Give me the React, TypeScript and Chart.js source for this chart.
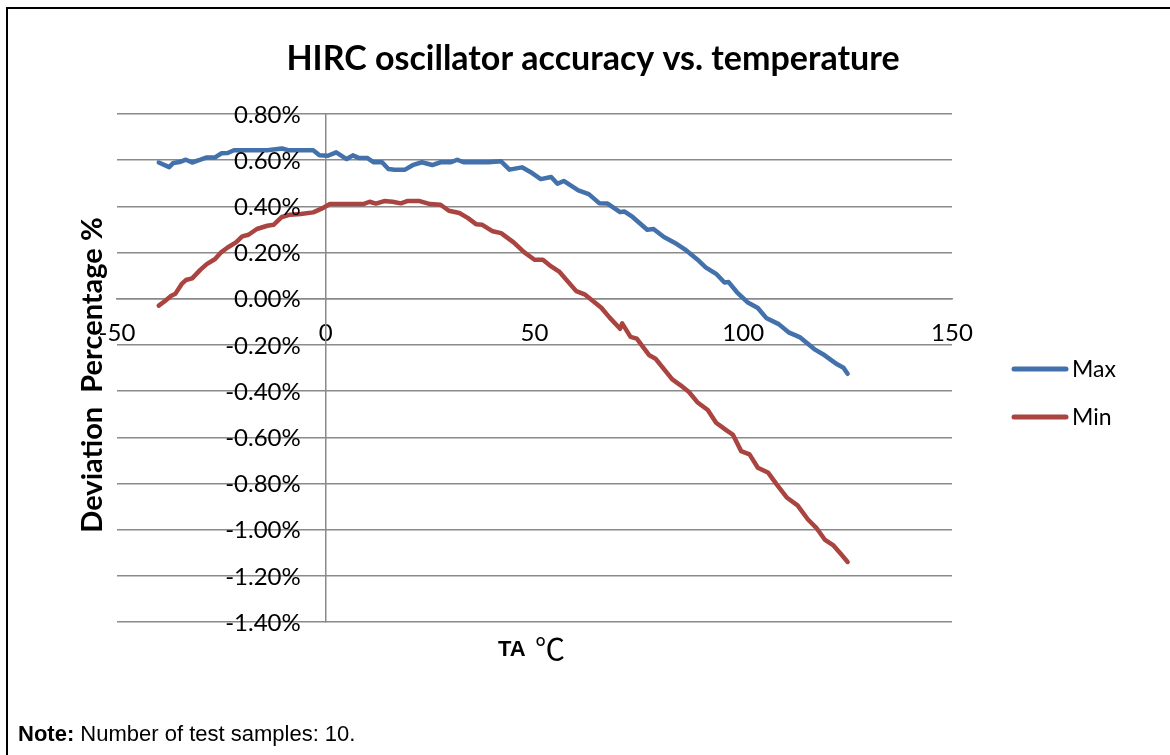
import React, { useEffect, useRef } from "react";
import { Chart, registerables } from "chart.js";

Chart.register(...registerables);

const chartTitle = "HIRC oscillator accuracy vs. temperature";
const yAxisTitle = "Deviation  Percentage %";
const xAxisTitleBold = "TA";
const xAxisTitleUnit = "℃";
const noteBold = "Note:";
const noteText = " Number of test samples: 10.";
const seriesNames = ["Max", "Min"];
const seriesColors = ["#4371AB", "#AA4441"];

const xMin = -50;
const xMax = 150;
const xStep = 50;
const yMin = -1.4;
const yMax = 0.8;
const yStep = 0.2;

const maxTemps = [
  -40, -37.5, -36.5, -35, -33.5, -32, -30, -28.5, -26.5, -25, -23.5, -22, -18, -14, -10.5, -9, -5, -3, -1.5, 0.5,
  2.5, 5, 6.5, 8, 10, 11.5, 13.5, 15, 16.5, 19, 21, 23, 25.5, 27.5, 30, 31.5, 33, 36, 39, 42,
  44, 47, 49, 51.5, 54, 55.5, 57, 60.5, 63, 65.5, 67.5, 70.5, 71.5, 73.5, 77, 78.5, 81, 84, 86, 89,
  91, 93.5, 95.5, 96.5, 98.5, 101, 103.5, 105.5, 108.5, 111, 113.5, 117, 119.5, 122.5, 124, 125,
];
const maxValues = [
  0.59, 0.57, 0.588, 0.592, 0.602, 0.59, 0.602, 0.612, 0.612, 0.63, 0.631, 0.643, 0.643, 0.643, 0.651, 0.643, 0.643, 0.643, 0.621, 0.619,
  0.634, 0.605, 0.621, 0.609, 0.609, 0.591, 0.591, 0.562, 0.559, 0.559, 0.58, 0.591, 0.579, 0.591, 0.591, 0.602, 0.591, 0.591, 0.591, 0.595,
  0.559, 0.569, 0.549, 0.518, 0.527, 0.498, 0.51, 0.469, 0.453, 0.414, 0.412, 0.375, 0.378, 0.354, 0.299, 0.302, 0.267, 0.238, 0.214, 0.17,
  0.136, 0.108, 0.07, 0.072, 0.028, -0.015, -0.04, -0.083, -0.11, -0.147, -0.166, -0.218, -0.245, -0.284, -0.299, -0.325,
];

const minTemps = [
  -40, -38.5, -37, -36, -34.5, -33.5, -32, -30, -28.5, -26.5, -25, -23.5, -21.5, -20, -18.5, -16.5, -14, -12.5, -10.5, -8.5,
  -6, -3, -1, 1, 4, 9, 10.5, 12, 14, 16, 18, 19.5, 22.5, 25, 27.5, 29.5, 32, 34, 36, 37.5,
  40, 42, 45, 47.5, 50, 52, 54, 56, 60, 62, 66, 68, 70.5, 71, 73, 74.5, 77.5, 79, 83, 85,
  87, 89, 91.5, 93.5, 96, 97.5, 99.5, 101.5, 103.5, 106, 108, 110.5, 113, 115.5, 117.5, 119.5, 121.5, 123.5, 125,
];
const minValues = [
  -0.03, -0.01, 0.013, 0.022, 0.064, 0.081, 0.088, 0.126, 0.15, 0.172, 0.202, 0.222, 0.244, 0.27, 0.277, 0.302, 0.316, 0.32, 0.354, 0.364,
  0.367, 0.374, 0.39, 0.41, 0.41, 0.41, 0.42, 0.412, 0.423, 0.42, 0.413, 0.423, 0.423, 0.41, 0.407, 0.381, 0.371, 0.35, 0.323, 0.32,
  0.292, 0.284, 0.244, 0.202, 0.169, 0.169, 0.14, 0.116, 0.033, 0.019, -0.039, -0.082, -0.13, -0.107, -0.165, -0.173, -0.245, -0.26, -0.349, -0.375,
  -0.404, -0.448, -0.482, -0.537, -0.57, -0.588, -0.66, -0.674, -0.732, -0.754, -0.804, -0.862, -0.895, -0.956, -0.992, -1.043, -1.067, -1.108, -1.14,
];

const W = 1170;
const H = 755;

const formatPct = (v: number) => Number(v).toFixed(2) + "%";

const decorPlugin = {
  id: "decor",
  beforeDraw(chart: any) {
    const ctx = chart.ctx;
    ctx.save();
    ctx.fillStyle = "#ffffff";
    ctx.fillRect(0, 0, W, H);
    ctx.fillStyle = "#000000";
    ctx.fillRect(6, 7, W - 6, 2);
    ctx.fillRect(6, 7, 2, H - 7);
    ctx.restore();
  },
  afterDraw(chart: any) {
    const ctx = chart.ctx;
    const area = chart.chartArea;
    const xs = chart.scales.x;
    const ys = chart.scales.y;
    ctx.save();
    ctx.fillStyle = "#000000";
    // y tick labels, placed beside the axis that crosses at x = 0
    ctx.font = "24px Lato";
    ctx.textAlign = "right";
    ctx.textBaseline = "middle";
    const axisX = xs.getPixelForValue(0);
    for (const t of ys.ticks) {
      ctx.fillText(formatPct(t.value), axisX - 25, ys.getPixelForValue(t.value) + 1);
    }
    // title
    ctx.font = "bold 34px Lato";
    ctx.textAlign = "center";
    ctx.textBaseline = "alphabetic";
    ctx.fillText(chartTitle, 593, 70);
    // y title
    ctx.save();
    ctx.translate(102, 375);
    ctx.rotate(-Math.PI / 2);
    ctx.font = "bold 29px Lato";
    ctx.textAlign = "center";
    ctx.fillText(yAxisTitle, 0, 0);
    ctx.restore();
    // x title
    ctx.textAlign = "left";
    ctx.font = "bold 22px 'Liberation Sans Narrow', 'Liberation Sans'";
    ctx.fillText(xAxisTitleBold, 498, 656);
    ctx.font = "30px 'Noto Sans CJK SC'";
    ctx.fillText(xAxisTitleUnit, 535, 660);
    // legend
    const legendY = [369, 417];
    for (let i = 0; i < seriesNames.length; i++) {
      ctx.strokeStyle = seriesColors[i];
      ctx.lineWidth = 5;
      ctx.lineCap = "round";
      ctx.beginPath();
      ctx.moveTo(1014, legendY[i]);
      ctx.lineTo(1066, legendY[i]);
      ctx.stroke();
      ctx.fillStyle = "#000000";
      ctx.font = "23px Lato";
      ctx.textBaseline = "alphabetic";
      ctx.fillText(seriesNames[i], 1072, legendY[i] + 8);
    }
    // note
    ctx.font = "bold 22px 'Liberation Sans'";
    ctx.fillText(noteBold, 18, 741);
    const nw = ctx.measureText(noteBold).width;
    ctx.font = "22px 'Liberation Sans'";
    ctx.fillText(noteText, 18 + nw, 741);
    ctx.restore();
  },
};

export default function App() {
  const ref = useRef<HTMLCanvasElement | null>(null);
  useEffect(() => {
    if (!ref.current) return;
    const chart = new Chart(ref.current, {
      type: "line",
      data: {
        datasets: [
          {
            label: seriesNames[0],
            data: maxTemps.map((t, i) => ({ x: t, y: maxValues[i] })),
            borderColor: seriesColors[0],
            backgroundColor: seriesColors[0],
            borderWidth: 4.5,
            pointRadius: 0,
            tension: 0,
            borderCapStyle: "round",
            borderJoinStyle: "round",
          },
          {
            label: seriesNames[1],
            data: minTemps.map((t, i) => ({ x: t, y: minValues[i] })),
            borderColor: seriesColors[1],
            backgroundColor: seriesColors[1],
            borderWidth: 4.5,
            pointRadius: 0,
            tension: 0,
            borderCapStyle: "round",
            borderJoinStyle: "round",
          },
        ],
      },
      options: {
        responsive: false,
        animation: false,
        layout: { padding: { left: 117, right: 218, top: 114, bottom: 133 } },
        plugins: {
          legend: { display: false },
          title: { display: false },
          tooltip: { enabled: false },
        },
        scales: {
          x: {
            type: "linear",
            position: { y: 0 } as any,
            min: xMin,
            max: xMax,
            ticks: {
              stepSize: xStep,
              padding: 20,
              color: "#000000",
              font: { family: "Lato", size: 24 },
            },
            grid: { display: false, drawTicks: false },
            border: { display: true, color: "#8a8a8a", width: 1.5 },
          },
          y: {
            type: "linear",
            position: { x: 0 } as any,
            min: yMin,
            max: yMax,
            ticks: {
              display: false,
              stepSize: yStep,
              callback: (v: any) => formatPct(v),
            },
            grid: { display: true, drawTicks: false, color: "#8a8a8a", lineWidth: 1.5 },
            border: { display: true, color: "#8a8a8a", width: 1.5 },
          },
        },
      },
      plugins: [decorPlugin],
    });
    return () => chart.destroy();
  }, []);
  return (
    <div style={{ position: "fixed", left: 0, top: 0, width: W, height: H, background: "#fff" }}>
      <canvas ref={ref} width={W} height={H} style={{ width: W, height: H, display: "block" }} />
    </div>
  );
}
